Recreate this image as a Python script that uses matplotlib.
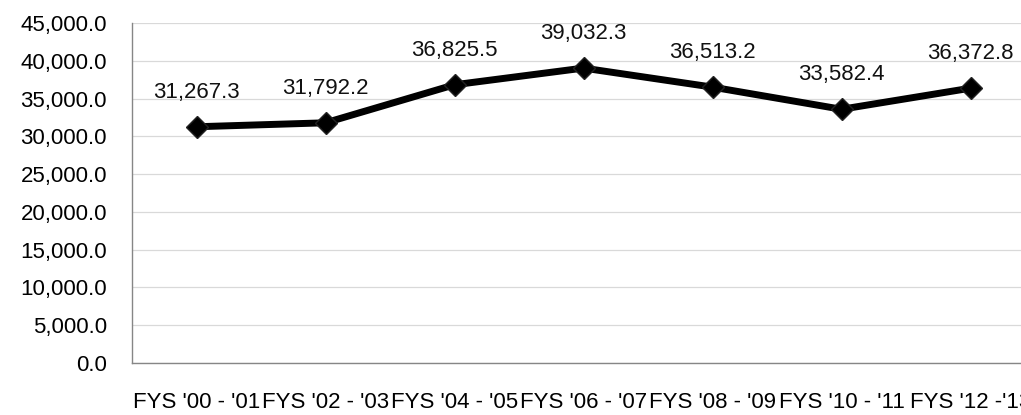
import matplotlib.pyplot as plt
import numpy as np

categories = ["FYS '00 - '01", "FYS '02 - '03", "FYS '04 - '05", "FYS '06 - '07",
              "FYS '08 - '09", "FYS '10 - '11", "FYS '12 -'13"]
values = [31267.3, 31792.2, 36825.5, 39032.3, 36513.2, 33582.4, 36372.8]
yticks = np.arange(0, 45001, 5000)

plt.rcParams['font.family'] = ['Liberation Sans', 'DejaVu Sans']

fig = plt.figure(figsize=(10.21, 4.15), dpi=100)
W, H = 1021, 415
ax = fig.add_axes([132 / W, (H - 363) / H, (1035 - 132) / W, (363 - 23) / H])

x = np.arange(len(categories))
ax.plot(x, values, color='black', lw=5, marker='D', ms=11,
        mfc='black', mec='#222222', zorder=3, solid_joinstyle='round')

for xi, v in zip(x, values):
    ax.annotate(f"{v:,.1f}", (xi, v), xytext=(0, 25), textcoords='offset points',
                ha='center', va='center', fontsize=16, color='#111111')

ax.set_xlim(-0.5, len(categories) - 0.5)
ax.set_ylim(0, 45000)
ax.set_yticks(yticks)
ax.set_yticklabels([f"{t:,.1f}" for t in yticks], fontsize=16)
ax.set_xticks(x)
ax.set_xticklabels(categories, fontsize=16)
ax.tick_params(axis='y', length=0, pad=18)
ax.tick_params(axis='x', length=0, pad=21)
ax.grid(axis='y', color='#d9d9d9', lw=0.9)
ax.set_axisbelow(True)
for s in ['top', 'right']:
    ax.spines[s].set_visible(False)
for s in ['left', 'bottom']:
    ax.spines[s].set_color('#868686')
    ax.spines[s].set_linewidth(1)

fig.savefig('out.png', dpi=100)
